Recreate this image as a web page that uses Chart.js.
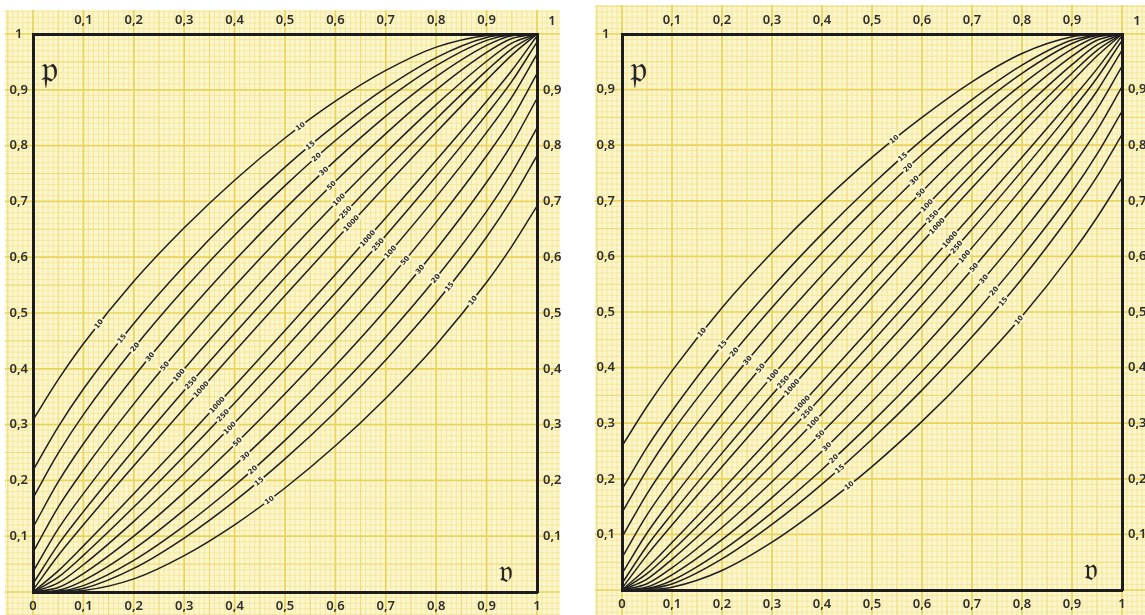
<!DOCTYPE html>
<html>
<head>
<meta charset="utf-8">
<script src="https://cdn.jsdelivr.net/npm/chart.js@4.4.1/dist/chart.umd.min.js"></script>
<style>
  html, body { margin: 0; padding: 0; background: #fff; overflow: hidden; }
  #wrap { position: relative; width: 1145px; height: 615px; }
  canvas { position: absolute; top: 0; }
  #left { left: 0; }
  #right { left: 580px; }
</style>
</head>
<body>
<div id="wrap">
  <canvas id="left" width="570" height="615"></canvas>
  <canvas id="right" width="565" height="615"></canvas>
</div>
<script>
const V = [0, 0.05, 0.1, 0.2, 0.3, 0.4, 0.5, 0.6, 0.7, 0.8, 0.9, 0.95, 1];
const SAMPLE_SIZES = ['10', '15', '20', '30', '50', '100', '250', '1000'];
const TICK_LABELS = ['0', '0,1', '0,2', '0,3', '0,4', '0,5', '0,6', '0,7', '0,8', '0,9', '1'];

// left chart: upper / lower limit of p
const up95_10 = [0.3085, 0.3806, 0.4450, 0.5567, 0.6527, 0.7380, 0.8136, 0.8795, 0.9347, 0.9765, 0.9975, 0.9995, 1];
const lo95_10 = [0, 0.0005, 0.0025, 0.0235, 0.0653, 0.1205, 0.1864, 0.2620, 0.3473, 0.4433, 0.5550, 0.6194, 0.6915];
const up95_15 = [0.2180, 0.2960, 0.3637, 0.4812, 0.5842, 0.6773, 0.7615, 0.8371, 0.9034, 0.9578, 0.9938, 0.9990, 1];
const lo95_15 = [0, 0.0010, 0.0062, 0.0422, 0.0966, 0.1629, 0.2385, 0.3227, 0.4158, 0.5188, 0.6363, 0.7040, 0.7820];
const up95_20 = [0.1684, 0.2487, 0.3179, 0.4368, 0.5428, 0.6395, 0.7282, 0.8091, 0.8816, 0.9434, 0.9886, 0.9987, 1];
const lo95_20 = [0, 0.0013, 0.0114, 0.0566, 0.1184, 0.1909, 0.2718, 0.3605, 0.4572, 0.5632, 0.6821, 0.7513, 0.8316];
const up95_30 = [0.1157, 0.1972, 0.2657, 0.3857, 0.4940, 0.5940, 0.6871, 0.7736, 0.8529, 0.9233, 0.9795, 0.9969, 1];
const lo95_30 = [0, 0.0031, 0.0205, 0.0767, 0.1471, 0.2264, 0.3129, 0.4060, 0.5060, 0.6143, 0.7343, 0.8028, 0.8843];
const up95_50 = [0.0711, 0.1520, 0.2183, 0.3372, 0.4461, 0.5482, 0.6448, 0.7360, 0.8215, 0.8999, 0.9670, 0.9920, 1];
const lo95_50 = [0, 0.0080, 0.0330, 0.1001, 0.1785, 0.2640, 0.3552, 0.4518, 0.5539, 0.6628, 0.7817, 0.8480, 0.9289];
const up95_100 = [0.0362, 0.1130, 0.1763, 0.2919, 0.3998, 0.5028, 0.6017, 0.6967, 0.7876, 0.8734, 0.9511, 0.9837, 1];
const lo95_100 = [0, 0.0163, 0.0489, 0.1266, 0.2124, 0.3033, 0.3983, 0.4972, 0.6002, 0.7081, 0.8237, 0.8870, 0.9638];
const up95_250 = [0.0147, 0.0849, 0.1441, 0.2550, 0.3610, 0.4636, 0.5637, 0.6612, 0.7561, 0.8478, 0.9343, 0.9735, 1];
const lo95_250 = [0, 0.0265, 0.0657, 0.1522, 0.2439, 0.3388, 0.4363, 0.5364, 0.6390, 0.7450, 0.8559, 0.9151, 0.9853];
const up95_1000 = [0.0037, 0.0654, 0.1204, 0.2262, 0.3294, 0.4310, 0.5312, 0.6302, 0.7279, 0.8239, 0.9173, 0.9621, 1];
const lo95_1000 = [0, 0.0379, 0.0827, 0.1761, 0.2721, 0.3698, 0.4688, 0.5690, 0.6706, 0.7738, 0.8796, 0.9346, 0.9963];

// right chart
const up90_10 = [0.2589, 0.3300, 0.3942, 0.5078, 0.6069, 0.6967, 0.7780, 0.8500, 0.9140, 0.9649, 0.9949, 0.9990, 1];
const lo90_10 = [0, 0.0010, 0.0051, 0.0351, 0.0860, 0.1500, 0.2220, 0.3033, 0.3931, 0.4922, 0.6058, 0.6700, 0.7411];
const up90_15 = [0.1810, 0.2566, 0.3220, 0.4402, 0.5447, 0.6405, 0.7288, 0.8095, 0.8821, 0.9442, 0.9893, 0.9980, 1];
const lo90_15 = [0, 0.0020, 0.0107, 0.0558, 0.1179, 0.1905, 0.2712, 0.3595, 0.4553, 0.5598, 0.6780, 0.7434, 0.8190];
const up90_20 = [0.1391, 0.2161, 0.2838, 0.4013, 0.5079, 0.6064, 0.6981, 0.7832, 0.8609, 0.9293, 0.9829, 0.9974, 1];
const lo90_20 = [0, 0.0026, 0.0171, 0.0707, 0.1391, 0.2168, 0.3019, 0.3936, 0.4921, 0.5987, 0.7162, 0.7839, 0.8609];
const up90_30 = [0.0950, 0.1730, 0.2392, 0.3572, 0.4651, 0.5661, 0.6611, 0.7506, 0.8339, 0.9095, 0.9728, 0.9947, 1];
const lo90_30 = [0, 0.0053, 0.0272, 0.0905, 0.1661, 0.2494, 0.3389, 0.4339, 0.5349, 0.6428, 0.7608, 0.8270, 0.9050];
const up90_50 = [0.0582, 0.1351, 0.1991, 0.3157, 0.4237, 0.5261, 0.6238, 0.7169, 0.8052, 0.8875, 0.9601, 0.9888, 1];
const lo90_50 = [0, 0.0112, 0.0399, 0.1125, 0.1948, 0.2831, 0.3762, 0.4739, 0.5763, 0.6843, 0.8009, 0.8649, 0.9418];
const up90_100 = [0.0295, 0.1025, 0.1638, 0.2772, 0.3842, 0.4870, 0.5864, 0.6825, 0.7751, 0.8634, 0.9448, 0.9803, 1];
const lo90_100 = [0, 0.0197, 0.0552, 0.1366, 0.2249, 0.3175, 0.4136, 0.5130, 0.6158, 0.7228, 0.8362, 0.8975, 0.9705];
const up90_250 = [0.0119, 0.0791, 0.1369, 0.2462, 0.3513, 0.4537, 0.5538, 0.6519, 0.7477, 0.8408, 0.9295, 0.9706, 1];
const lo90_250 = [0, 0.0294, 0.0705, 0.1592, 0.2523, 0.3481, 0.4462, 0.5463, 0.6487, 0.7538, 0.8631, 0.9209, 0.9881];
const up90_1000 = [0.0030, 0.0627, 0.1168, 0.2217, 0.3245, 0.4258, 0.5261, 0.6253, 0.7234, 0.8201, 0.9146, 0.9603, 1];
const lo90_1000 = [0, 0.0397, 0.0854, 0.1799, 0.2766, 0.3747, 0.4739, 0.5742, 0.6755, 0.7783, 0.8832, 0.9373, 0.9970];

const table95 = [[up95_10, lo95_10], [up95_15, lo95_15], [up95_20, lo95_20], [up95_30, lo95_30],
                 [up95_50, lo95_50], [up95_100, lo95_100], [up95_250, lo95_250], [up95_1000, lo95_1000]];
const table90 = [[up90_10, lo90_10], [up90_15, lo90_15], [up90_20, lo90_20], [up90_30, lo90_30],
                 [up90_50, lo90_50], [up90_100, lo90_100], [up90_250, lo90_250], [up90_1000, lo90_1000]];

Chart.defaults.font.family = "'Noto Sans', 'DejaVu Sans', sans-serif";
Chart.defaults.font.size = 13;
Chart.defaults.font.weight = '600';
Chart.defaults.color = '#2e2e2e';

const PAPER = '#fcf6cc';

// yellow millimetre paper, lines follow the chart's own scales
const paperPlugin = {
    id: 'paper',
    beforeDraw(chart, args, opts) {
        const ctx = chart.ctx;
        const xs = chart.scales.x, ys = chart.scales.y;
        const [l, t, r, b] = opts.box;
        ctx.save();
        ctx.fillStyle = PAPER;
        ctx.fillRect(l, t, r - l, b - t);
        ctx.beginPath();
        ctx.rect(l, t, r - l, b - t);
        ctx.clip();
        const passes = [
            { test: k => k % 5 !== 0, color: '#f2e594', width: 0.8 },
            { test: k => k % 5 === 0 && k % 10 !== 0, color: '#eddb77', width: 1.1 },
            { test: k => k % 10 === 0, color: '#e9d35a', width: 1.7 }
        ];
        passes.forEach(p => {
            ctx.strokeStyle = p.color;
            ctx.lineWidth = p.width;
            ctx.beginPath();
            for (let k = -40; k <= 140; k++) {
                if (!p.test(Math.abs(k))) continue;
                const px = xs.getPixelForValue(k / 100);
                ctx.moveTo(px, t); ctx.lineTo(px, b);
                const py = ys.getPixelForValue(k / 100);
                ctx.moveTo(l, py); ctx.lineTo(r, py);
            }
            ctx.stroke();
        });
        ctx.restore();
    }
};

function bez(a, b, c, d, t) {
    const u = 1 - t;
    return u * u * u * a + 3 * u * u * t * b + 3 * u * t * t * c + t * t * t * d;
}

// sample-size labels where each curve crosses a guide line
const curveLabels = {
    id: 'curveLabels',
    afterDatasetsDraw(chart, args, opts) {
        const ctx = chart.ctx;
        const xs = chart.scales.x, ys = chart.scales.y;
        ctx.save();
        ctx.font = "bold 7px 'DejaVu Sans', sans-serif";
        ctx.textAlign = 'center';
        ctx.textBaseline = 'middle';
        opts.clusters.forEach(c => {
            const ax = xs.getPixelForValue(c.from[0]), ay = ys.getPixelForValue(c.from[1]);
            const bx = xs.getPixelForValue(c.to[0]), by = ys.getPixelForValue(c.to[1]);
            const side = (x, y) => (x - ax) * (by - ay) - (y - ay) * (bx - ax);
            chart.data.datasets.forEach((ds, di) => {
                if (ds.branch !== c.branch) return;
                const pts = chart.getDatasetMeta(di).data;
                for (let k = 0; k < pts.length - 1; k++) {
                    const p0 = pts[k], p1 = pts[k + 1];
                    const f0 = side(p0.x, p0.y), f1 = side(p1.x, p1.y);
                    if (f0 * f1 > 0) continue;
                    const c1x = p0.cp2x ?? p0.x, c1y = p0.cp2y ?? p0.y;
                    const c2x = p1.cp1x ?? p1.x, c2y = p1.cp1y ?? p1.y;
                    let lo = 0, hi = 1;
                    for (let it = 0; it < 30; it++) {
                        const m = (lo + hi) / 2;
                        const fm = side(bez(p0.x, c1x, c2x, p1.x, m), bez(p0.y, c1y, c2y, p1.y, m));
                        if (fm * f0 > 0) lo = m; else hi = m;
                    }
                    const t = (lo + hi) / 2;
                    const x = bez(p0.x, c1x, c2x, p1.x, t), y = bez(p0.y, c1y, c2y, p1.y, t);
                    const x2 = bez(p0.x, c1x, c2x, p1.x, Math.min(1, t + 0.02));
                    const y2 = bez(p0.y, c1y, c2y, p1.y, Math.min(1, t + 0.02));
                    const x1 = bez(p0.x, c1x, c2x, p1.x, Math.max(0, t - 0.02));
                    const y1 = bez(p0.y, c1y, c2y, p1.y, Math.max(0, t - 0.02));
                    const ang = Math.atan2(y2 - y1, x2 - x1);
                    ctx.save();
                    ctx.translate(x, y);
                    ctx.rotate(ang);
                    const w = ctx.measureText(ds.n).width;
                    ctx.fillStyle = PAPER;
                    ctx.fillRect(-w / 2 - 1.5, -4, w + 3, 8);
                    ctx.fillStyle = '#2a2a2a';
                    ctx.fillText(ds.n, 0, 0.5);
                    ctx.restore();
                    break;
                }
            });
        });
        ctx.restore();
    }
};

// fraktur letters p and v and the corner "1"
const letters = {
    id: 'letters',
    afterDraw(chart, args, opts) {
        const ctx = chart.ctx;
        const a = chart.chartArea;
        ctx.save();
        ctx.fillStyle = '#262626';
        ctx.textAlign = 'left';
        ctx.textBaseline = 'alphabetic';
        ctx.font = "38px 'DejaVu Serif', 'DejaVu Sans', serif";
        ctx.fillText('𝔭', a.left + 8, a.top + 48);
        ctx.font = "32px 'DejaVu Serif', 'DejaVu Sans', serif";
        ctx.fillText('𝔳', a.right - 38, a.bottom - 10);
        ctx.font = "600 13px 'Noto Sans', sans-serif";
        ctx.textAlign = 'center';
        ctx.textBaseline = 'middle';
        ctx.fillStyle = '#2e2e2e';
        ctx.fillText('1', a.right + 15, 21);
        ctx.restore();
    }
};

function axis(position, size, shown, padding) {
    const horizontal = position === 'top' || position === 'bottom';
    return {
        type: 'linear',
        position: position,
        min: 0,
        max: 1,
        grid: { display: false, drawTicks: false },
        border: { display: true, width: 3, color: '#1c1c1c' },
        ticks: {
            stepSize: 0.1,
            autoSkip: false,
            maxRotation: 0,
            padding: padding,
            crossAlign: position === 'left' ? 'center' : 'near',
            callback: function (value) {
                const i = Math.round(value * 10);
                return shown.includes(i) ? TICK_LABELS[i] : '';
            }
        },
        afterFit: function (scale) {
            if (horizontal) scale.height = size; else scale.width = size;
        }
    };
}

function curveSets(table) {
    const sets = [];
    table.forEach((pair, i) => {
        ['upper', 'lower'].forEach((branch, j) => {
            sets.push({
                label: SAMPLE_SIZES[i] + ' ' + branch,
                n: SAMPLE_SIZES[i],
                branch: branch,
                data: V.map((v, k) => ({ x: v, y: pair[j][k] })),
                borderColor: '#1f1f1f',
                borderWidth: 1.5,
                pointRadius: 0,
                cubicInterpolationMode: 'monotone',
                fill: false
            });
        });
    });
    return sets;
}

function makeChart(id, table, sizes, paperBox, clusters) {
    return new Chart(document.getElementById(id), {
        type: 'line',
        data: { datasets: curveSets(table) },
        options: {
            responsive: false,
            animation: false,
            events: [],
            layout: { padding: 0 },
            plugins: {
                legend: { display: false },
                tooltip: { enabled: false },
                paper: { box: paperBox },
                curveLabels: { clusters: clusters }
            },
            scales: {
                x: axis('bottom', sizes.bottom, [0, 1, 2, 3, 4, 5, 6, 7, 8, 9, 10], 6),
                x2: axis('top', sizes.top, [1, 2, 3, 4, 5, 6, 7, 8, 9], 6),
                y: axis('left', sizes.left, [1, 2, 3, 4, 5, 6, 7, 8, 9, 10], sizes.leftPad),
                y2: axis('right', sizes.right, [1, 2, 3, 4, 5, 6, 7, 8, 9], 6)
            }
        },
        plugins: [paperPlugin, curveLabels, letters]
    });
}

makeChart('left', table95,
    { top: 34, bottom: 23, left: 33, right: 33, leftPad: 5 },
    [5, 10, 560, 615],
    [
        { branch: 'upper', from: [0.526, 0.842], to: [0.625, 0.672] },
        { branch: 'lower', from: [0.669, 0.631], to: [0.881, 0.518] },
        { branch: 'upper', from: [0.119, 0.487], to: [0.327, 0.367] },
        { branch: 'lower', from: [0.371, 0.326], to: [0.474, 0.156] }
    ]);

makeChart('right', table90,
    { top: 34, bottom: 25, left: 42, right: 23, leftPad: 7 },
    [15, 5, 565, 615],
    [
        { branch: 'upper', from: [0.54, 0.818], to: [0.626, 0.662] },
        { branch: 'lower', from: [0.662, 0.624], to: [0.78, 0.50] },
        { branch: 'upper', from: [0.146, 0.471], to: [0.332, 0.369] },
        { branch: 'lower', from: [0.36, 0.336], to: [0.462, 0.176] }
    ]);
</script>
</body>
</html>
